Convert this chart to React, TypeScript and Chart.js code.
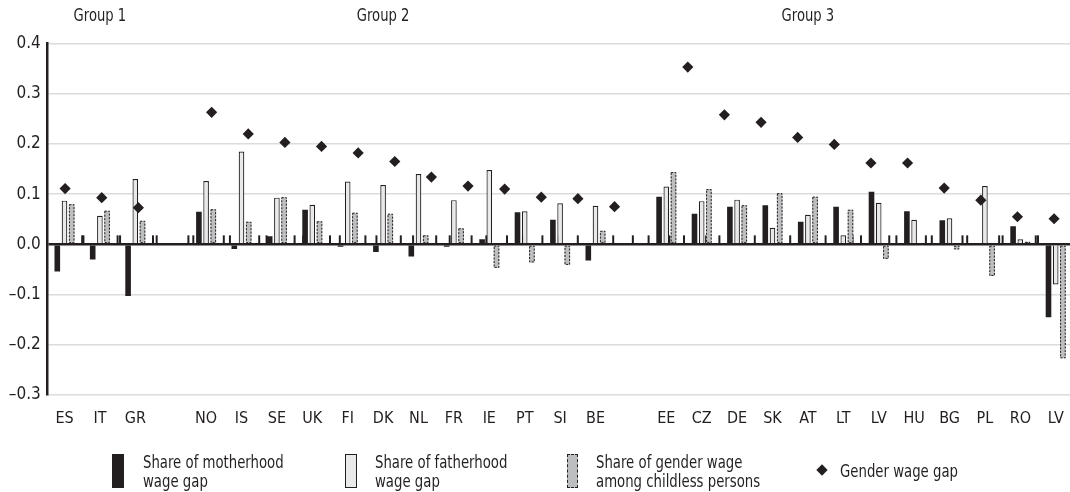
import React, { useEffect, useRef } from "react";
import { Chart, registerables } from "chart.js";

Chart.register(...registerables);

// ---------------- data ----------------
const categories = ["ES", "IT", "GR", "", "NO", "IS", "SE", "UK", "FI", "DK", "NL", "FR", "IE", "PT", "SI", "BE", "", "EE", "CZ", "DE", "SK", "AT", "LT", "LV", "HU", "BG", "PL", "RO", "LV"];

const motherhoodShare = [-0.054, -0.030, -0.103, null, 0.065, -0.009, 0.016, 0.069, -0.005, -0.015, -0.024, -0.005, 0.010, 0.064, 0.049, -0.032, null, 0.095, 0.061, 0.075, 0.078, 0.045, 0.075, 0.105, 0.066, 0.048, 0.002, 0.036, -0.145];

const fatherhoodShare = [0.087, 0.057, 0.130, null, 0.126, 0.185, 0.093, 0.079, 0.125, 0.118, 0.140, 0.088, 0.148, 0.066, 0.082, 0.077, null, 0.115, 0.086, 0.089, 0.033, 0.059, 0.018, 0.083, 0.049, 0.052, 0.116, 0.010, -0.080];

const childlessShare = [0.080, 0.067, 0.047, null, 0.070, 0.045, 0.094, 0.046, 0.063, 0.061, 0.018, 0.032, -0.047, -0.036, -0.041, 0.027, null, 0.144, 0.110, 0.078, 0.102, 0.095, 0.069, -0.029, -0.003, -0.010, -0.063, 0.005, -0.227];

const genderWageGap = [0.111, 0.093, 0.073, null, 0.263, 0.220, 0.203, 0.195, 0.182, 0.165, 0.134, 0.116, 0.110, 0.094, 0.091, 0.075, null, 0.353, 0.258, 0.243, 0.213, 0.199, 0.162, 0.162, 0.112, 0.088, 0.055, 0.051, null];

const seriesLegendLines = [
  ["Share of motherhood", "wage gap"],
  ["Share of fatherhood", "wage gap"],
  ["Share of gender wage", "among childless persons"],
  ["Gender wage gap"],
];

const groupNames = ["Group 1", "Group 2", "Group 3"];
const groupAnchorIndex = [1, 9, 21];

const yMin = -0.3;
const yMax = 0.4;
const yStep = 0.1;

// ---------------- styles ----------------
const FONT = "'DejaVu Sans Condensed', 'DejaVu Sans', sans-serif";
const INK = "#231f20";
const LIGHT = "#e9e9ea";
const GREY = "#bdbec0";
const GRID = "#dcdcdc";

const CANVAS_W = 1090;
const CANVAS_H = 492;
const CHILDLESS_INDEX = 2;
const GAP_INDEX = 3;
// In the source figure the diamonds sit on a secondary category axis that is
// slightly wider than the primary one (its last category falls off the page).
const SECONDARY_WIDTH_RATIO = 1.0347;

function secondaryPixel(xs: any, value: number) {
  const catW = (xs.right - xs.left) / categories.length;
  return xs.left + (value + 0.5) * catW * SECONDARY_WIDTH_RATIO;
}

const secondaryAxisPlugin = {
  id: "secondaryAxis",
  afterDatasetsUpdate(chart: any) {
    const meta = chart.getDatasetMeta(GAP_INDEX);
    const xs = chart.scales.x;
    meta.data.forEach((el: any, j: number) => {
      const parsed = meta._parsed[j];
      if (parsed) el.x = secondaryPixel(xs, parsed.x);
    });
  },
};

const dashedBorderPlugin = {
  id: "dashedBorder",
  afterDatasetDraw(chart: any, args: any) {
    if (args.index !== CHILDLESS_INDEX) return;
    const ctx = chart.ctx;
    const meta = chart.getDatasetMeta(CHILDLESS_INDEX);
    ctx.save();
    ctx.strokeStyle = INK;
    ctx.lineWidth = 1;
    ctx.setLineDash([2, 1.5]);
    meta.data.forEach((el: any) => {
      const p = el.getProps(["x", "y", "base", "width"], true);
      if (p.y == null || isNaN(p.y)) return;
      const top = Math.min(p.y, p.base);
      const h = Math.abs(p.base - p.y);
      if (h < 0.5) return;
      ctx.strokeRect(p.x - p.width / 2 + 0.5, top + 0.5, p.width - 1, h - 1);
    });
    ctx.restore();
  },
};

const axisTicksPlugin = {
  id: "axisTicks",
  beforeDatasetsDraw(chart: any) {
    const ctx = chart.ctx;
    const xs = chart.scales.x;
    const ys = chart.scales.y;
    const y0 = ys.getPixelForValue(0);
    const n = categories.length;
    const half = (xs.right - xs.left) / n / 2;
    ctx.save();
    ctx.fillStyle = INK;
    for (let i = 1; i <= n; i++) {
      const xb = xs.getPixelForValue(i - 1) + half;
      ctx.fillRect(xb - 1, y0 - 9, 2, 9);
      const xb2 = secondaryPixel(xs, i - 0.5);
      ctx.fillRect(xb2 - 1, y0 - 9, 2, 9);
    }
    ctx.restore();
  },
};

const groupLabelPlugin = {
  id: "groupLabels",
  afterDraw(chart: any) {
    const ctx = chart.ctx;
    const xs = chart.scales.x;
    ctx.save();
    ctx.font = `17px ${FONT}`;
    ctx.fillStyle = INK;
    ctx.textAlign = "center";
    ctx.textBaseline = "middle";
    groupNames.forEach((name, k) => {
      ctx.save();
      ctx.translate(xs.getPixelForValue(groupAnchorIndex[k]), 17);
      ctx.scale(0.86, 1);
      ctx.fillText(name, 0, 0);
      ctx.restore();
    });
    ctx.restore();
  },
};

export default function App() {
  const canvasRef = useRef<HTMLCanvasElement | null>(null);

  useEffect(() => {
    const canvas = canvasRef.current;
    if (!canvas) return;
    const chart = new Chart(canvas, {
      type: "bar",
      data: {
        labels: categories,
        datasets: [
          {
            label: seriesLegendLines[0].join(" "),
            data: motherhoodShare as any,
            backgroundColor: INK,
            borderWidth: 0,
            order: 1,
          },
          {
            label: seriesLegendLines[1].join(" "),
            data: fatherhoodShare as any,
            backgroundColor: LIGHT,
            borderColor: INK,
            borderWidth: 1.2,
            order: 1,
          },
          {
            label: seriesLegendLines[2].join(" "),
            data: childlessShare as any,
            backgroundColor: GREY,
            borderWidth: 0,
            order: 1,
          },
          {
            type: "scatter" as any,
            label: seriesLegendLines[3].join(" "),
            data: genderWageGap as any,
            pointStyle: "rectRot",
            pointRadius: 5.6,
            pointHoverRadius: 5.6,
            backgroundColor: INK,
            borderWidth: 0,
            showLine: false,
            clip: false,
            order: 0,
          } as any,
        ],
      },
      options: {
        responsive: false,
        animation: false,
        events: [],
        layout: { padding: { left: 0, right: 16.6, top: 43.5, bottom: 0 } },
        datasets: {
          bar: { categoryPercentage: 0.61, barPercentage: 0.78 },
        },
        plugins: {
          legend: { display: false },
          tooltip: { enabled: false },
        },
        scales: {
          x: {
            type: "category",
            position: "bottom",
            grid: { display: false, drawTicks: false },
            border: { display: false },
            ticks: {
              color: INK,
              font: { family: FONT, size: 16 },
              padding: 14,
              autoSkip: false,
              maxRotation: 0,
            },
            afterFit: (s: any) => {
              s.height = 97;
            },
          },
          y: {
            min: yMin,
            max: yMax,
            ticks: {
              stepSize: yStep,
              color: INK,
              font: { family: FONT, size: 17 },
              padding: 6,
              callback: (v: any) => {
                const r = Math.round(Number(v) * 10) / 10;
                return (r === 0 ? "0.0" : r.toFixed(1)).replace("-", "\u2013");
              },
            },
            grid: {
              drawTicks: false,
              color: (c: any) => (c.tick && Math.abs(c.tick.value) < 1e-9 ? INK : GRID),
              lineWidth: (c: any) => (c.tick && Math.abs(c.tick.value) < 1e-9 ? 2.5 : 1.5),
            },
            border: { display: true, color: INK, width: 2.5 },
            afterFit: (s: any) => {
              s.width = 46.8;
            },
          },
        },
      },
      plugins: [secondaryAxisPlugin, axisTicksPlugin, dashedBorderPlugin, groupLabelPlugin],
    });
    return () => chart.destroy();
  }, []);

  const textStyle: React.CSSProperties = {
    position: "absolute",
    fontFamily: FONT,
    fontSize: 18,
    lineHeight: "19px",
    color: INK,
    whiteSpace: "nowrap",
    transform: "scaleX(0.82)",
    transformOrigin: "0 0",
  };

  const swatchBase: React.CSSProperties = {
    position: "absolute",
    top: 454,
    height: 34,
    boxSizing: "border-box",
  };

  return (
    <div
      style={{
        position: "fixed",
        left: 0,
        top: 0,
        width: 1070,
        height: 492,
        overflow: "hidden",
        background: "#fff",
      }}
    >
      <canvas
        ref={canvasRef}
        width={CANVAS_W}
        height={CANVAS_H}
        style={{ display: "block", width: CANVAS_W, height: CANVAS_H }}
      />
      {/* legend */}
      <div style={{ ...swatchBase, left: 112, width: 12, background: INK }} />
      <div style={{ ...textStyle, left: 143, top: 452 }}>
        {seriesLegendLines[0][0]}
        <br />
        {seriesLegendLines[0][1]}
      </div>
      <div style={{ ...swatchBase, left: 345, width: 12, background: LIGHT, border: `1.5px solid ${INK}` }} />
      <div style={{ ...textStyle, left: 375, top: 452 }}>
        {seriesLegendLines[1][0]}
        <br />
        {seriesLegendLines[1][1]}
      </div>
      <div style={{ ...swatchBase, left: 567, width: 11, background: GREY, border: `1.5px dashed ${INK}` }} />
      <div style={{ ...textStyle, left: 596, top: 452 }}>
        {seriesLegendLines[2][0]}
        <br />
        {seriesLegendLines[2][1]}
      </div>
      <div
        style={{
          position: "absolute",
          left: 818,
          top: 466,
          width: 8,
          height: 8,
          background: INK,
          transform: "rotate(45deg)",
        }}
      />
      <div style={{ ...textStyle, left: 840, top: 461 }}>{seriesLegendLines[3][0]}</div>
    </div>
  );
}
